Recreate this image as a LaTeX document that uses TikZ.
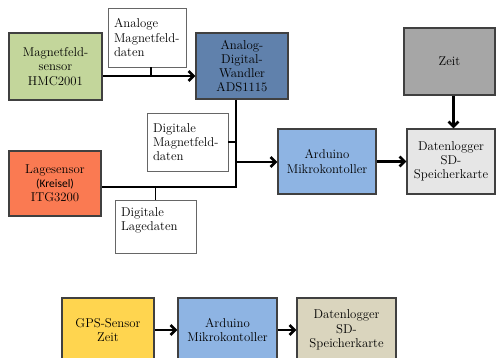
\documentclass[tikz,border=0pt]{standalone}
\usepackage{fontspec}
\usetikzlibrary{positioning, arrows.meta}
\newfontfamily\kreiselfont{Carlito}
\tikzstyle{block}=[draw=black!75, line width=1.2pt, align=center, inner sep=2pt, font=\fontsize{12.8}{14.2}\selectfont]
\tikzstyle{infobox}=[draw=black!60, fill=white, line width=0.8pt, align=left, inner xsep=6pt, font=\fontsize{12.8}{14.2}\selectfont]
\tikzstyle{flow}=[-{Straight Barb[length=5pt, width=10pt]}, line width=2.6pt]
\tikzstyle{bus}=[line width=2.6pt]
\tikzstyle{tap}=[line width=1.1pt]
\definecolor{mag_green}{RGB}{195, 214, 155}
\definecolor{adc_blue}{RGB}{96, 129, 172}
\definecolor{zeit_gray}{RGB}{166, 166, 166}
\definecolor{ard_blue}{RGB}{142, 180, 227}
\definecolor{log_gray}{RGB}{230, 230, 230}
\definecolor{lage_red}{RGB}{250, 122, 82}
\definecolor{gps_yellow}{RGB}{255, 213, 79}
\definecolor{log_sand}{RGB}{218, 213, 190}
\begin{document}
\begin{tikzpicture}[x=1pt, y=-1pt]
    \useasboundingbox (0, 0) rectangle (496, 358);
    \clip (0, 0) rectangle (496, 358);
    % upper chain
    \node[block, fill=mag_green, minimum width=93pt, minimum height=67pt] (mag) at (55.5, 66.5) {Magnetfeld-\\sensor\\HMC2001};
    \node[infobox, text width=66pt, minimum height=59pt] (anlab) at (147, 37.5) {Analoge\\Magnetfeld-\\daten};
    \node[block, fill=adc_blue, minimum width=92pt, minimum height=66pt] (adc) at (242, 66) {Analog-\\Digital-\\Wandler\\ADS1115};
    \node[block, fill=lage_red, minimum width=92pt, minimum height=65pt] (lage) at (55, 183.5) {Lagesensor\\{\kreiselfont\fontsize{11.5}{14.2}\selectfont (Kreisel)}\\ITG3200};
    \node[infobox, text width=69pt, minimum height=58pt] (digmag) at (187.5, 142) {Digitale\\Magnetfeld-\\daten};
    \node[infobox, text width=69pt, minimum height=53pt] (diglage) at (155.5, 226.5) {Digitale\\Lagedaten\\\mbox{}};
    \node[block, fill=ard_blue, minimum width=98pt, minimum height=65pt] (ard) at (327, 161.5) {Arduino\\Mikrokontoller};
    \node[block, fill=zeit_gray, minimum width=91pt, minimum height=67pt] (zeit) at (449.5, 61.5) {Zeit};
    \node[block, fill=log_gray, minimum width=88pt, minimum height=65pt] (log) at (451, 161.5) {Datenlogger\\SD-\\Speicherkarte};

    \coordinate (j1) at (151, 76);
    \coordinate (b1) at (236, 162);
    \coordinate (b2) at (236, 187);
    \draw[flow] (mag.east |- j1) -- (adc.west |- j1);
    \draw[tap] (anlab.south -| j1) -- (j1);
    \draw[bus] (adc.south -| b1) -- (b2) -- (lage.east |- b2);
    \draw[tap] (digmag.east) -- (digmag.east -| b1);
    \draw[tap] (diglage.north) -- (diglage.north |- b2);
    \draw[flow] (b1) -- (ard.west |- b1);
    \draw[flow] (ard) -- (log);
    \draw[flow] ([xshift=4pt]zeit.south) -- ([xshift=4pt]zeit.south |- log.north);

    % lower chain
    \node[block, fill=gps_yellow, minimum width=92pt, minimum height=64pt] (gps) at (108, 330) {GPS-Sensor\\Zeit};
    \node[block, fill=ard_blue, minimum width=99pt, minimum height=64pt] (ard2) at (227.5, 330) {Arduino\\Mikrokontoller};
    \node[block, fill=log_sand, minimum width=99pt, minimum height=64pt] (log2) at (346.5, 330) {Datenlogger\\SD-\\Speicherkarte};
    \draw[flow] (gps) -- (ard2);
    \draw[flow] (ard2) -- (log2);
\end{tikzpicture}
\end{document}
